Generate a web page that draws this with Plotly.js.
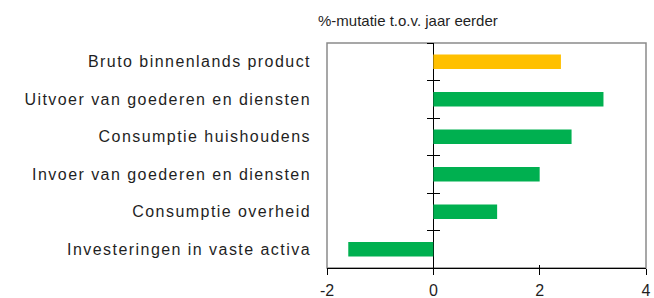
<!DOCTYPE html>
<html>
<head>
<meta charset="utf-8">
<script src="https://cdn.plot.ly/plotly-3.0.1.min.js"></script>
<style>
  html, body { margin: 0; padding: 0; background: #fff; }
  #chart { width: 654px; height: 298px; }
  .yaxislayer-above .ytick text { letter-spacing: 1.45px; }
</style>
</head>
<body>
<div id="chart"></div>
<script>
// ---- data ----
const categories = [
  "Bruto binnenlands product",
  "Uitvoer van goederen en diensten",
  "Consumptie huishoudens",
  "Invoer van goederen en diensten",
  "Consumptie overheid",
  "Investeringen in vaste activa"
];
const values = [2.4, 3.2, 2.6, 2.0, 1.2, -1.6];
const xTickVals = [-2, 0, 2, 4];
const xTickLabels = ["-2", "0", "2", "4"];
const unitLabel = "%-mutatie t.o.v. jaar eerder";

// ---- styling ----
const FONT = "Liberation Sans, Arial, sans-serif";
const TXT = "#1f1f1f";
const ORANGE = "#FFC000";
const GREEN = "#00B050";
const xRange = [-2, 4];
const n = categories.length;
const yRangeRev = [n - 0.5, -0.5];
const boundaries = [];
for (let i = 0; i <= n; i++) boundaries.push(i - 0.5);
const zeroPos = (0 - xRange[0]) / (xRange[1] - xRange[0]);

const barTrace = {
  type: "bar",
  orientation: "h",
  y: categories,
  x: values,
  width: 0.39,
  marker: { color: categories.map((c, i) => i === 0 ? ORANGE : GREEN), line: { width: 0 } },
  hoverinfo: "none"
};
// empty helper traces so the overlay axes get drawn
const helperY2 = { type: "scatter", mode: "markers", x: [], y: [], xaxis: "x", yaxis: "y2", hoverinfo: "none" };
const helperY3 = { type: "scatter", mode: "markers", x: [], y: [], xaxis: "x", yaxis: "y3", hoverinfo: "none" };
const helperX2 = { type: "scatter", mode: "markers", x: [], y: [], xaxis: "x2", yaxis: "y", hoverinfo: "none" };

const crossAxis = {
  overlaying: "y",
  anchor: "free",
  position: zeroPos,
  side: "left",
  range: yRangeRev,
  autorange: false,
  tickmode: "array",
  tickvals: boundaries,
  showticklabels: false,
  ticklen: 6,
  tickwidth: 1,
  tickcolor: "#000",
  showline: false,
  showgrid: false,
  zeroline: false
};

const layout = {
  width: 654,
  height: 298,
  margin: { l: 327, r: 8, t: 43, b: 30 },
  paper_bgcolor: "#fff",
  plot_bgcolor: "#fff",
  showlegend: false,
  font: { family: FONT, size: 16, color: TXT },
  xaxis: {
    range: xRange,
    tickmode: "array",
    tickvals: xTickVals,
    ticktext: xTickLabels,
    ticks: "outside",
    ticklen: 6,
    tickwidth: 1,
    tickcolor: "#000",
    showline: true,
    linecolor: "#000",
    linewidth: 1,
    showgrid: false,
    zeroline: true,
    zerolinecolor: "#000",
    zerolinewidth: 1,
    tickfont: { family: FONT, size: 16, color: TXT },
    ticklabelstandoff: 2
  },
  xaxis2: {
    overlaying: "x",
    anchor: "y",
    side: "bottom",
    range: xRange,
    autorange: false,
    tickmode: "array",
    tickvals: xTickVals,
    showticklabels: false,
    ticks: "inside",
    ticklen: 3,
    tickwidth: 1,
    tickcolor: "#000",
    showline: false,
    showgrid: false,
    zeroline: false
  },
  yaxis: {
    type: "category",
    categoryorder: "array",
    categoryarray: categories,
    range: yRangeRev,
    ticks: "",
    showline: false,
    showgrid: false,
    zeroline: false,
    tickfont: { family: FONT, size: 16, color: TXT },
    ticklabelstandoff: 15
  },
  yaxis2: Object.assign({}, crossAxis, { ticks: "outside" }),
  yaxis3: Object.assign({}, crossAxis, { ticks: "inside" }),
  shapes: [{
    type: "rect", xref: "paper", yref: "paper",
    x0: 0, x1: 1, y0: 0, y1: 1,
    line: { color: "#8a8a8a", width: 1.5 },
    layer: "below"
  }],
  annotations: [{
    text: unitLabel,
    xref: "paper", yref: "paper",
    x: -0.033, y: 1.10,
    xanchor: "left", yanchor: "middle",
    showarrow: false,
    font: { family: FONT, size: 15, color: TXT }
  }]
};

Plotly.newPlot("chart", [barTrace, helperY2, helperY3, helperX2], layout, { staticPlot: true, displayModeBar: false });
</script>
</body>
</html>
